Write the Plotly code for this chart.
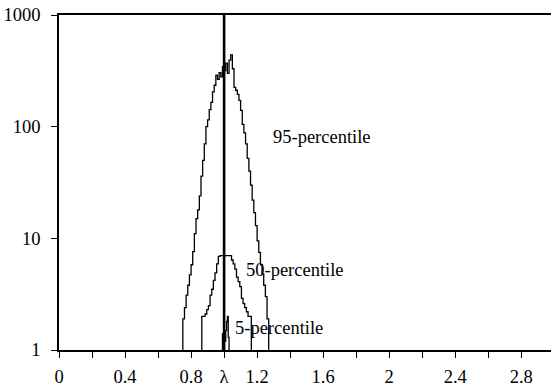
import numpy as np
import plotly.graph_objects as go

# ---- data ----
lam = 1.0
bin_width = 0.01

p95_start = 0.75
p95_values = [1.9, 2.4, 3.1, 3.8, 4.7, 5.8, 7.6, 11, 15, 18,
              24, 36, 50, 70, 100, 115, 142, 165, 205, 235,
              290, 265, 305, 280, 345, 318, 370, 300, 395, 440,
              330, 225, 212, 195, 172, 140, 105, 88, 70, 52,
              40, 30, 22, 17, 13, 9.5, 7.5, 5.8, 4.8, 3.8,
              3.0, 1.9]

p50_start = 0.865
p50_values = [2.0, 2.0, 2.1, 2.3, 2.5, 3.1, 3.5, 4.2, 4.9, 5.9,
              6.9, 7.0, 7.0, 7.0, 7.0, 7.0, 7.0, 7.0, 6.4, 5.9,
              5.3, 4.5, 4.1, 3.7, 2.9, 2.6, 2.4, 2.2, 2.0, 2.0]

p5_start = 0.99
p5_width = 0.005
p5_values = [1.4, 1.3, 1.3, 1.2, 1.5, 1.8, 2.0, 1.3]

x_tickvals = [0, 0.4, 0.8, lam, 1.2, 1.6, 2.0, 2.4, 2.8]
x_ticktext = ["0", "0.4", "0.8", "λ", "1.2", "1.6", "2", "2.4", "2.8"]
x_minor = [0.2, 0.6, 1.4, 1.8, 2.2, 2.6]
y_tickvals = [1, 10, 100, 1000]
y_ticktext = ["1", "10", "100", "1000"]

labels = [("95-percentile", 1.285, 80), ("50-percentile", 1.121, 5.2), ("5-percentile", 1.055, 1.57)]


def step_xy(start, width, values):
    edges = start + width * np.arange(len(values) + 1)
    xs = [edges[0]] + list(edges[:-1]) + [edges[-1]]
    ys = [1] + list(values) + [1]
    return xs, ys


fig = go.Figure()
for start, width, vals in [(p95_start, bin_width, p95_values),
                           (p50_start, bin_width, p50_values),
                           (p5_start, p5_width, p5_values)]:
    xs, ys = step_xy(start, width, vals)
    fig.add_trace(go.Scatter(x=xs, y=ys, mode="lines", line=dict(color="black", width=1.3, shape="hv"),
                             showlegend=False, hoverinfo="skip"))

fig.add_trace(go.Scatter(x=[lam, lam], y=[1, 1000], mode="lines", line=dict(color="black", width=2.6),
                         showlegend=False, hoverinfo="skip"))

font = dict(family="Liberation Serif", size=18.5, color="black")

for text, x, y in labels:
    fig.add_annotation(x=x, y=np.log10(y), text=text, showarrow=False, xanchor="left", yanchor="middle",
                       font=font)

fig.update_layout(
    width=551, height=387,
    margin=dict(l=59, r=0, t=15, b=35),
    paper_bgcolor="white", plot_bgcolor="white",
    font=font,
    xaxis=dict(range=[0, 2.98], tickmode="array", tickvals=x_tickvals, ticktext=x_ticktext,
               ticks="outside", ticklen=6, tickwidth=1.2, tickcolor="black",
               minor=dict(tickmode="array", tickvals=x_minor, ticks="outside", ticklen=6, tickwidth=1.2, tickcolor="black"),
               showline=True, linecolor="black", linewidth=1.5, mirror=True,
               showgrid=False, zeroline=False, ticklabelstandoff=3, tickfont=font),
    yaxis=dict(type="log", range=[0, 3], tickmode="array", tickvals=y_tickvals, ticktext=y_ticktext,
               ticks="outside", ticklen=6, tickwidth=1.2, tickcolor="black",
               showline=True, linecolor="black", linewidth=1.5,
               showgrid=False, zeroline=False, ticklabelstandoff=7, tickfont=font),
)

fig.write_html("out.html")
